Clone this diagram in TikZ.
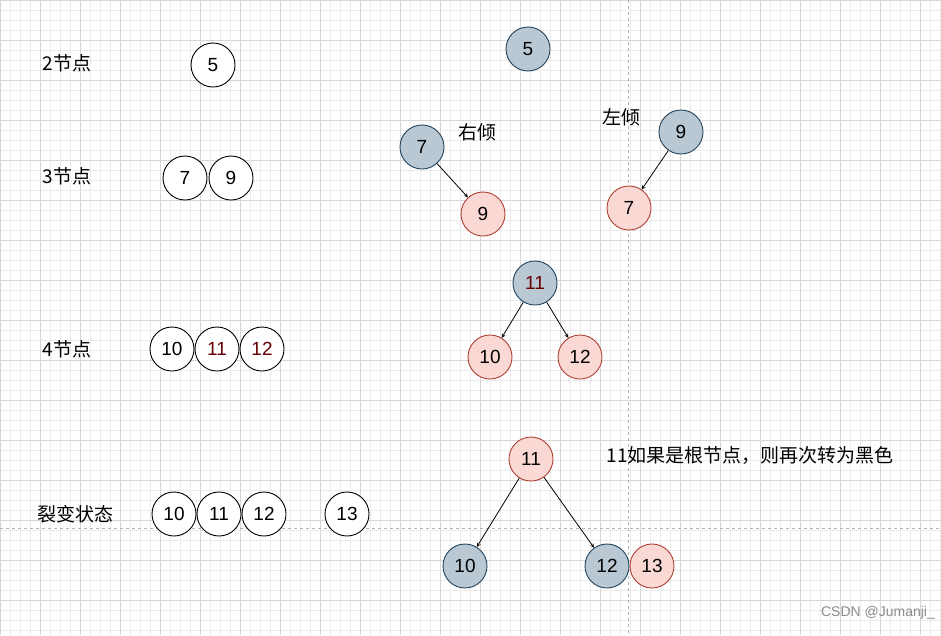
\documentclass[tikz,border=0pt]{standalone}
\usepackage{fontspec}
\setmainfont{Liberation Sans}
\newfontfamily\cjk{Noto Sans CJK SC}
\begin{document}
\begin{tikzpicture}[x=1pt,y=-1pt,
  nd/.style={circle,draw,line width=0.9pt,minimum size=44pt,inner sep=0pt,font=\fontsize{19}{21}\selectfont},
  wn/.style={nd,fill=white},
  gn/.style={nd,fill={rgb,255:red,186;green,200;blue,211},draw={rgb,255:red,35;green,68;blue,93}},
  pn/.style={nd,fill={rgb,255:red,250;green,217;blue,213},draw={rgb,255:red,174;green,65;blue,50}},
  lb/.style={font=\cjk\fontsize{19}{21}\selectfont},
  ar/.style={->,>=stealth,line width=0.8pt}]
\useasboundingbox (0,0) rectangle (941,635);
\fill[white] (0,0) rectangle (941,635);
\foreach \i in {0,10,...,940} \draw[black!8,line width=0.5pt] (\i,0) -- (\i,635);
\foreach \i in {0,10,...,630} \draw[black!8,line width=0.5pt] (0,\i) -- (941,\i);
\foreach \i in {0,40,...,940} \draw[black!16,line width=0.5pt] (\i,0) -- (\i,635);
\foreach \i in {0,40,...,630} \draw[black!16,line width=0.5pt] (0,\i) -- (941,\i);
\draw[black!30,dashed] (628,0) -- (628,635);
\draw[black!30,dashed] (0,528) -- (941,528);
\node[lb] (t2) at (67,63) {2节点};
\node[lb] (t3) at (67,176) {3节点};
\node[lb] (t4) at (67,349) {4节点};
\node[lb] (tl) at (75,514) {裂变状态};
\node[wn] (a5) at (213,65) {5};
\node[wn] (b7) at (185,178) {7};
\node[wn] (b9) at (231,178) {9};
\node[wn] (c10) at (172,349) {10};
\node[wn,text={rgb,255:red,102;green,0;blue,0}] (c11) at (217,349) {11};
\node[wn,text={rgb,255:red,102;green,0;blue,0}] (c12) at (262,349) {12};
\node[wn] (d10) at (174,514) {10};
\node[wn] (d11) at (219,514) {11};
\node[wn] (d12) at (264,514) {12};
\node[wn] (d13) at (347,514) {13};
\node[gn] (g5) at (528,49) {5};
\node[gn] (g7) at (422,147) {7};
\node[pn] (p9) at (483,214) {9};
\node[lb] (ry) at (477,132) {右倾};
\node[lb] (zy) at (621,117) {左倾};
\node[gn] (g9) at (681,132) {9};
\node[pn] (p7) at (629,208) {7};
\draw[ar] (g7) -- (p9);
\draw[ar] (g9) -- (p7);
\node[gn,text={rgb,255:red,102;green,0;blue,0}] (g11) at (535,283) {11};
\node[pn] (p10) at (490,357) {10};
\node[pn] (p12) at (580,357) {12};
\draw[ar] (g11) -- (p10);
\draw[ar] (g11) -- (p12);
\node[pn] (p11) at (531,459) {11};
\node[gn] (e10) at (465,566) {10};
\node[gn] (e12) at (607,566) {12};
\node[pn] (e13) at (652,566) {13};
\draw[ar] (p11) -- (e10);
\draw[ar] (p11) -- (e12);
\node[lb] (note) at (750,455) {11如果是根节点，则再次转为黑色};
\node[font=\fontsize{14}{16}\selectfont,text=black!45] (wm) at (878,613) {CSDN @Jumanji\_};
\end{tikzpicture}
\end{document}
